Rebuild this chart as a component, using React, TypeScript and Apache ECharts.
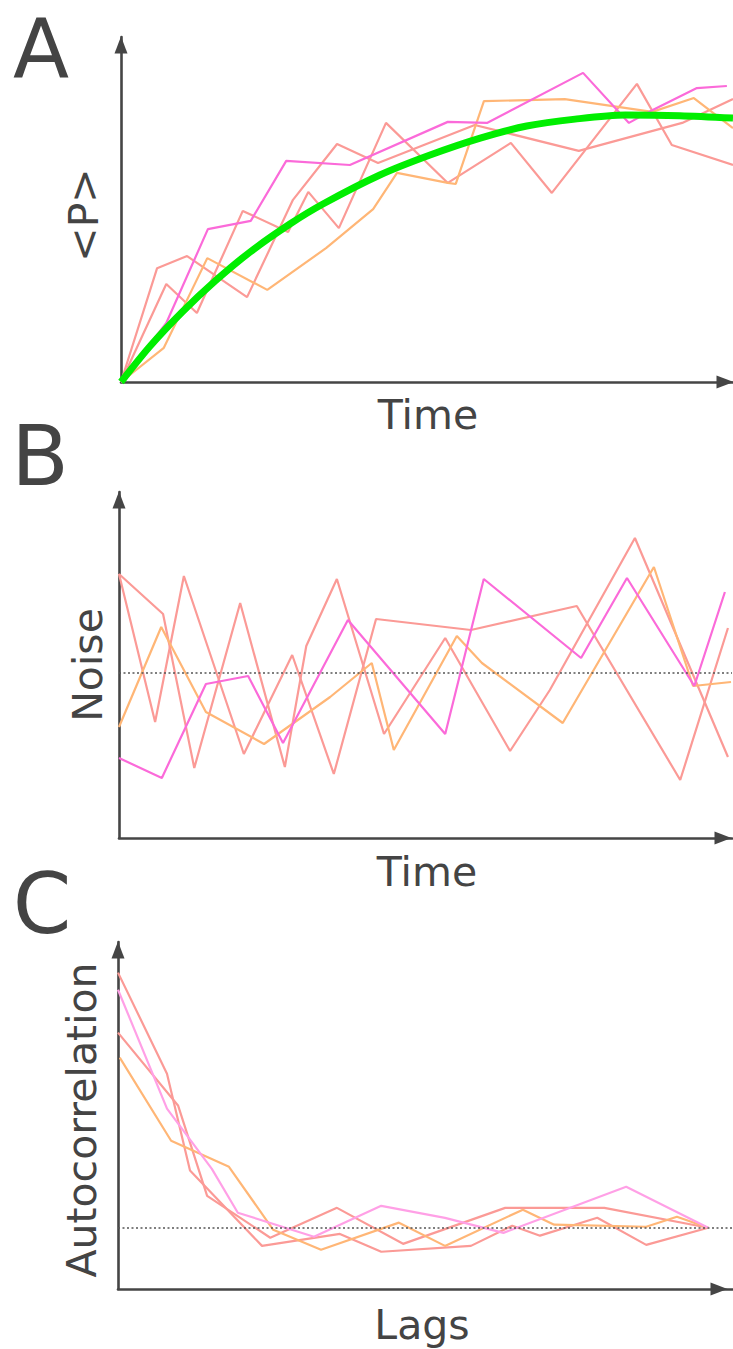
import React, { useEffect, useRef } from "react";
import * as echarts from "echarts";

// ---------- Panel A : <P> over time ----------
const aSalmon1 = [[0, 0], [5.9, 33.0], [10.8, 36.5], [20.6, 24.6], [28.1, 52.8], [35.3, 69.0], [42.0, 63.5], [57.8, 74.5], [74.8, 67.0], [91.7, 75.1], [100, 82.0]];
const aSalmon2 = [[0, 0], [7.4, 28.4], [12.4, 20.0], [19.9, 49.6], [27.3, 43.5], [30.6, 55.1], [35.6, 44.6], [43.3, 75.1], [53.4, 57.7], [63.7, 69.3], [70.4, 54.8], [84.3, 86.4], [90.0, 68.7], [100, 62.9]];
const aMagenta = [[0, 0], [7.4, 17.1], [14.2, 44.3], [21.2, 46.7], [27.0, 64.1], [37.4, 62.9], [53.4, 75.4], [59.8, 75.1], [75.5, 89.6], [83.0, 75.1], [86.8, 78.8], [94.1, 85.2], [99.0, 85.8]];
const aOrange = [[0, 0], [7.0, 9.9], [14.1, 35.9], [23.9, 26.7], [33.5, 38.8], [41.2, 50.1], [45.1, 60.6], [53.4, 57.7], [54.7, 57.4], [59.3, 81.4], [72.5, 82.0], [86.8, 78.3], [93.6, 82.3], [100, 73.6]];
const aMean = [[0, 0], [4.7, 10.3], [10.0, 20.3], [15.4, 29.3], [21.1, 37.7], [27.6, 45.8], [33.0, 51.6], [42.3, 60.0], [50.5, 65.8], [58.7, 70.7], [66.3, 74.2], [74.2, 76.2], [82.4, 77.4], [91.3, 77.2], [100, 76.5]];

// ---------- Panel B : noise over time ----------
const bSalmon1 = [[0, 0.99], [7.2, 0.59], [12.3, -0.95], [19.8, 0.70], [27.1, -0.94], [30.6, 0.27], [35.6, 0.94], [43.3, -0.61], [53.3, 0.35], [63.9, -0.78], [70.4, -0.17], [84.3, 1.35], [99.5, -0.84]];
const bSalmon2 = [[0, 0.99], [5.9, -0.49], [10.6, 0.97], [20.4, -0.81], [28.3, 0.18], [35.1, -1.01], [42.0, 0.54], [57.5, 0.43], [74.8, 0.67], [91.7, -1.07], [99.5, 0.45]];
const bOrange = [[0, -0.54], [6.9, 0.46], [14.2, -0.39], [23.7, -0.71], [34.5, -0.24], [41.3, 0.10], [44.9, -0.77], [55.2, 0.37], [59.3, 0.10], [72.5, -0.50], [87.4, 1.06], [93.8, -0.13], [100, -0.09]];
const bMagenta = [[0, -0.85], [7.0, -1.05], [14.2, -0.11], [21.1, -0.03], [26.8, -0.70], [37.4, 0.53], [53.3, -0.61], [59.6, 0.94], [75.5, 0.15], [83.0, 0.95], [94.0, -0.13], [99.0, 0.81]];

// ---------- Panel C : autocorrelation over lags ----------
const cSalmon1 = [[0, 1.0], [8.3, 0.604], [12.2, 0.224], [24.4, -0.071], [37.6, -0.024], [44.6, -0.094], [59.8, -0.071], [66.8, 0.008], [71.5, -0.031], [81.2, 0.039], [89.5, -0.067], [100, 0]];
const cSalmon2 = [[0, 0.765], [10.2, 0.478], [15.1, 0.125], [25.8, -0.039], [37.1, 0.078], [48.3, -0.063], [65.6, 0.078], [82.4, 0.078], [100, 0]];
const cPink = [[0, 0.933], [8.3, 0.467], [15.9, 0.231], [20.3, 0.059], [33.2, -0.035], [44.6, 0.086], [55.4, 0.039], [65.3, -0.020], [86.1, 0.161], [100, 0]];
const cOrange = [[0.3, 0.667], [9.0, 0.341], [18.8, 0.239], [26.3, -0.008], [34.4, -0.086], [47.6, 0.020], [55.4, -0.071], [68.6, 0.071], [73.9, 0.012], [89.5, 0.004], [94.7, 0.043], [100, 0]];

const panelLetters = ["A", "B", "C"];
const axisTitlesX = ["Time", "Time", "Lags"];
const axisTitlesY = ["<P>", "Noise", "Autocorrelation"];

const AXIS = "#454545";
const TEXT = "#444444";
const SALMON = "#fb9a96";
const MAGENTA = "#fb6ad9";
const ORANGE = "#ffb676";
const PINK = "#ffa0e6";
const GREEN = "#00ee00";
const FONT = "DejaVu Sans";

function axisLine(endOffset: number) {
  return {
    show: true,
    onZero: false,
    symbol: ["none", "triangle"],
    symbolSize: [13, 17],
    symbolOffset: [0, endOffset],
    lineStyle: { color: AXIS, width: 2.6 },
  };
}

function xAxis(gridIndex: number, max: number, endOffset = -8) {
  return {
    type: "value", gridIndex, min: 0, max,
    axisLine: axisLine(endOffset), axisTick: { show: false }, axisLabel: { show: false }, splitLine: { show: false },
  };
}
function yAxis(gridIndex: number, min: number, max: number) {
  return {
    type: "value", gridIndex, min, max,
    axisLine: axisLine(-8), axisTick: { show: false }, axisLabel: { show: false }, splitLine: { show: false },
  };
}
function line(data: number[][], color: string, axisIndex: number, width = 2.2, extra: any = {}) {
  return {
    type: "line", data, xAxisIndex: axisIndex, yAxisIndex: axisIndex,
    showSymbol: false, symbol: "none", silent: true,
    lineStyle: { color, width }, ...extra,
  };
}
const zeroLine = {
  silent: true, symbol: ["none", "none"], label: { show: false },
  lineStyle: { color: "#555", width: 1.6, type: [2, 2.5] },
  data: [{ yAxis: 0 }],
};

function txt(text: string, x: number, y: number, size: number, rotation = 0) {
  return {
    type: "text", x, y, rotation, silent: true,
    style: { text, fill: TEXT, fontSize: size, fontFamily: FONT, align: "center", verticalAlign: "middle" },
  };
}

export default function App() {
  const ref = useRef<HTMLDivElement>(null);
  useEffect(() => {
    const chart = echarts.init(ref.current!, null, { renderer: "svg" });
    chart.setOption({
      animation: false,
      backgroundColor: "#ffffff",
      grid: [
        { left: 121, top: 37, width: 612, height: 345 },
        { left: 119, top: 492, width: 613, height: 346 },
        { left: 118, top: 942, width: 615, height: 347 },
      ],
      xAxis: [xAxis(0, 100), xAxis(1, 100.16, -9), xAxis(2, 104.2, -14)],
      yAxis: [yAxis(0, 0, 100), yAxis(1, -1.65, 1.81), yAxis(2, -0.24, 1.12)],
      series: [
        line(aSalmon1, SALMON, 0),
        line(aSalmon2, SALMON, 0),
        line(aOrange, ORANGE, 0),
        line(aMagenta, MAGENTA, 0),
        line(aMean, GREEN, 0, 7, { smooth: 0.3, z: 5 }),
        line(bSalmon1, SALMON, 1, 2.2, { markLine: zeroLine }),
        line(bSalmon2, SALMON, 1),
        line(bOrange, ORANGE, 1),
        line(bMagenta, MAGENTA, 1),
        line(cSalmon1, SALMON, 2, 2.2, { markLine: zeroLine }),
        line(cSalmon2, SALMON, 2),
        line(cOrange, ORANGE, 2),
        line(cPink, PINK, 2),
      ],
      graphic: [
        txt(panelLetters[0], 41, 48, 82),
        txt(panelLetters[1], 40, 456, 84),
        txt(panelLetters[2], 42, 904, 84),
        txt(axisTitlesX[0], 428, 415, 41),
        txt(axisTitlesX[1], 427, 872, 41),
        txt(axisTitlesX[2], 422, 1325, 41),
        txt(axisTitlesY[0], 84, 215, 41, Math.PI / 2),
        txt(axisTitlesY[1], 88, 665, 41, Math.PI / 2),
        txt(axisTitlesY[2], 82, 1120, 41, Math.PI / 2),
      ],
    });
    return () => chart.dispose();
  }, []);
  return (
    <div
      ref={ref}
      style={{ position: "absolute", left: 0, top: 0, width: 733, height: 1349, background: "#fff" }}
    />
  );
}
